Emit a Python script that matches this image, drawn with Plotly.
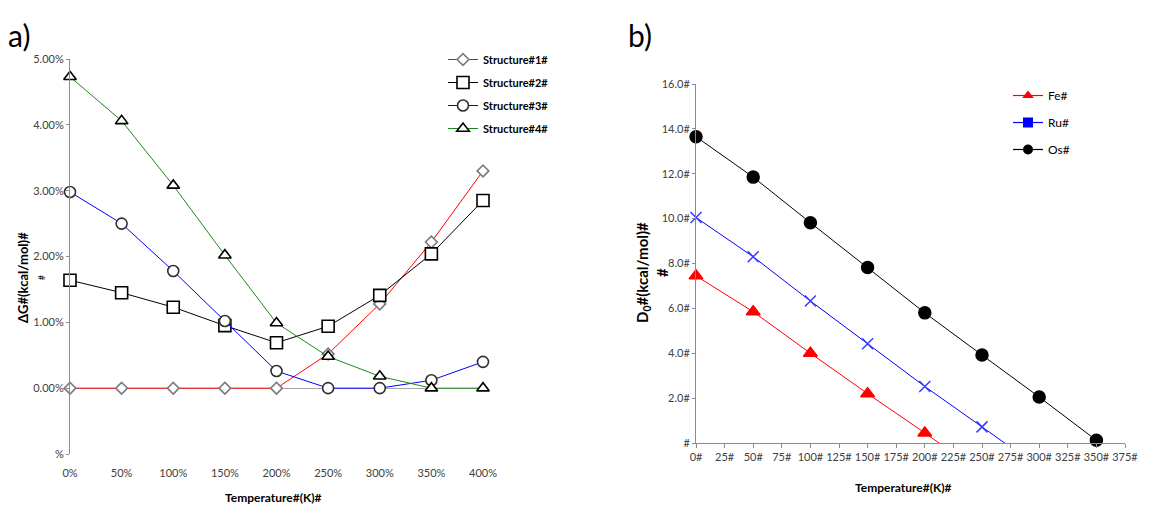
import plotly.graph_objects as go

# ---------------- data : panel a ----------------
temps_a = [0, 50, 100, 150, 200, 250, 300, 350, 400]
temps_a_labels = ["0%", "50%", "100%", "150%", "200%", "250%", "300%", "350%", "400%"]
structure1 = [0.0, 0.0, 0.0, 0.0, 0.0, 0.52, 1.28, 2.22, 3.30]
structure2 = [1.64, 1.45, 1.23, 0.95, 0.69, 0.94, 1.41, 2.04, 2.85]
structure3 = [2.98, 2.50, 1.78, 1.02, 0.26, 0.0, 0.0, 0.12, 0.40]
structure4 = [4.73, 4.06, 3.08, 2.02, 0.99, 0.48, 0.18, 0.0, 0.0]
names_a = ["Structure#1#", "Structure#2#", "Structure#3#", "Structure#4#"]
ytick_a_vals = [-1, 0, 1, 2, 3, 4, 5]
ytick_a_text = ["%", "0.00%", "1.00%", "2.00%", "3.00%", "4.00%", "5.00%"]

# ---------------- data : panel b ----------------
temps_fe = [0, 50, 100, 150, 200, 250]
fe = [7.45, 5.85, 4.0, 2.2, 0.45, -1.35]
temps_ru = [0, 50, 100, 150, 200, 250, 300]
ru = [10.05, 8.3, 6.33, 4.42, 2.52, 0.72, -1.1]
temps_os = [0, 50, 100, 150, 200, 250, 300, 350]
os_ = [13.65, 11.85, 9.82, 7.82, 5.8, 3.92, 2.05, 0.12]
names_b = ["Fe#", "Ru#", "Os#"]
xtick_b_vals = list(range(0, 376, 25))
xtick_b_text = [f"{v}#" for v in xtick_b_vals]
ytick_b_vals = [0, 2, 4, 6, 8, 10, 12, 14, 16]
ytick_b_text = ["#", "2.0#", "4.0#", "6.0#", "8.0#", "10.0#", "12.0#", "14.0#", "16.0#"]

W, H = 1167, 505
PAGE_OFF = 8  # default body margin of the html page
FONT = "Lato, 'Open Sans', sans-serif"
TICKC = "#404040"
AXC = "#8c8c8c"


def px_x(p):
    return (p - PAGE_OFF) / W


def px_y(p):
    return 1 - (p - PAGE_OFF) / H


fig = go.Figure()

# ---------- panel a traces ----------
styles_a = [
    dict(color="#ff0000", symbol="diamond", size=9, lc="#7a7a7a"),
    dict(color="#000000", symbol="square", size=12, lc="#000000"),
    dict(color="#0000ff", symbol="circle", size=11, lc="#303030"),
    dict(color="#1a8a1a", symbol="triangle-up", size=11, lc="#000000"),
]
for i, (vals, name, st) in enumerate(zip([structure1, structure2, structure3, structure4], names_a, styles_a)):
    fig.add_trace(go.Scatter(
        x=temps_a, y=vals, name=name, mode="lines+markers",
        line=dict(color=st["color"], width=1),
        marker=dict(symbol=st["symbol"], size=st["size"], color="white", opacity=1,
                    line=dict(color=st["lc"], width=1.6)),
        cliponaxis=False, xaxis="x", yaxis="y", legend="legend",
        legendgroup=f"a{i}",
    ))

# ---------- panel b traces ----------
styles_b = [
    dict(color="#ff0000", symbol="triangle-up", size=12, lcol="#ff0000", leg_symbol="triangle-up"),
    dict(color="#3a3aff", symbol="x-thin", size=11, lcol="#0000ff", leg_symbol="square"),
    dict(color="#000000", symbol="circle", size=12, lcol="#000000", leg_symbol="circle"),
]
for i, (xs, vals, name, st) in enumerate(zip([temps_fe, temps_ru, temps_os], [fe, ru, os_], names_b, styles_b)):
    sizes = [st["size"] if v >= 0 else 0 for v in vals]
    fig.add_trace(go.Scatter(
        x=xs, y=vals, name=name, mode="lines+markers", showlegend=False,
        line=dict(color=st["lcol"], width=1),
        marker=dict(symbol=st["symbol"], size=sizes, color=st["color"], opacity=1,
                    line=dict(color=st["color"], width=1.5)),
        cliponaxis=False, xaxis="x2", yaxis="y2",
    ))
    # legend entry (the Excel legend shows its own marker style)
    fig.add_trace(go.Scatter(
        x=[None], y=[None], name=name, mode="lines+markers",
        line=dict(color=st["lcol"], width=1.2),
        marker=dict(symbol=st["leg_symbol"], size=10, color=st["lcol"]),
        xaxis="x2", yaxis="y2", legend="legend2", legendgroup=f"b{i}",
    ))

fig.update_layout(
    width=W, height=H, autosize=False,
    margin=dict(l=0, r=0, t=0, b=0, autoexpand=False),
    paper_bgcolor="white", plot_bgcolor="white",
    font=dict(family=FONT, size=11, color=TICKC),
    xaxis=dict(
        domain=[px_x(70), px_x(483)], range=[0, 400], automargin=False,
        tickvals=temps_a, ticktext=temps_a_labels, tickangle=0,
        showline=False, showgrid=False, zeroline=False,
        ticks="outside", ticklen=9, tickcolor="rgba(0,0,0,0)",
        tickfont=dict(size=11, color=TICKC), anchor="y",
    ),
    yaxis=dict(
        domain=[px_y(454), px_y(59)], range=[-1, 5], automargin=False,
        tickvals=ytick_a_vals, ticktext=ytick_a_text,
        showline=True, linecolor=AXC, linewidth=1,
        showgrid=False, zeroline=True, zerolinecolor="#a6a6a6", zerolinewidth=1,
        ticks="outside", ticklen=3, tickcolor=AXC,
        tickfont=dict(size=11, color=TICKC), anchor="x",
    ),
    xaxis2=dict(
        domain=[px_x(696), px_x(1125)], range=[0, 375], automargin=False,
        tickvals=xtick_b_vals, ticktext=xtick_b_text, tickangle=0,
        showline=True, linecolor=AXC, linewidth=1,
        showgrid=False, zeroline=False,
        ticks="outside", ticklen=4, tickcolor=AXC,
        tickfont=dict(size=11, color=TICKC), anchor="y2",
    ),
    yaxis2=dict(
        domain=[px_y(443), px_y(84)], range=[0, 16], automargin=False,
        tickvals=ytick_b_vals, ticktext=ytick_b_text,
        showline=True, linecolor=AXC, linewidth=1,
        showgrid=False, zeroline=False,
        ticks="outside", ticklen=3, tickcolor=AXC,
        tickfont=dict(size=11, color=TICKC), anchor="x2",
    ),
    legend=dict(
        x=px_x(443), y=px_y(45), xanchor="left", yanchor="top",
        font=dict(family=FONT, size=11, color="black", weight="bold"),
        bgcolor="rgba(0,0,0,0)", tracegroupgap=4, itemwidth=30,
    ),
    legend2=dict(
        x=px_x(1008), y=px_y(81), xanchor="left", yanchor="top",
        font=dict(family=FONT, size=12, color="black"),
        bgcolor="rgba(0,0,0,0)", tracegroupgap=8, itemwidth=30,
    ),
)

annotations = [
    dict(text="a)", x=px_x(6), y=px_y(35), xanchor="left", yanchor="middle",
         font=dict(family=FONT, size=30, color="black")),
    dict(text="b)", x=px_x(626), y=px_y(35), xanchor="left", yanchor="middle",
         font=dict(family=FONT, size=30, color="black")),
    dict(text="<b>Temperature#(K)#</b>", x=px_x(273), y=px_y(497), xanchor="center", yanchor="middle",
         font=dict(family=FONT, size=12, color="black")),
    dict(text="<b>Temperature#(K)#</b>", x=px_x(903), y=px_y(487), xanchor="center", yanchor="middle",
         font=dict(family=FONT, size=12, color="black")),
    dict(text="<b>ΔG#(kcal/mol)#</b><br><span style='font-size:9px'>#</span>", x=px_x(31), y=px_y(278),
         xanchor="center", yanchor="middle", textangle=-90,
         font=dict(family=FONT, size=13, color="black")),
    dict(text="<b>D<sub>0</sub>#(kcal/mol)#</b><br><b>#</b>", x=px_x(652), y=px_y(273),
         xanchor="center", yanchor="middle", textangle=-90,
         font=dict(family=FONT, size=15, color="black")),
]
for a in annotations:
    a.update(xref="paper", yref="paper", showarrow=False)
fig.update_layout(annotations=annotations)

fig.write_html("out.html")
